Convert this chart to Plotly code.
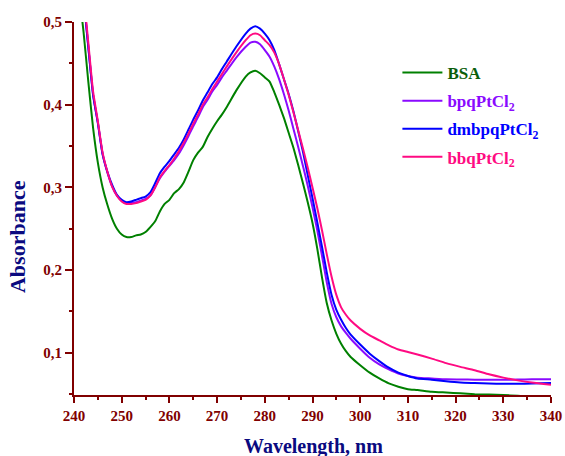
import plotly.graph_objects as go

wavelength = [241, 242, 243, 244, 245, 246, 247, 248, 249, 250, 251, 252, 253, 254, 255,
              256, 257, 258, 259, 260,
              261, 262, 263, 264, 265, 266, 267, 268, 269, 270, 271, 272,
              274, 276, 277, 278, 279,
              280, 281, 282, 283, 284, 285, 286, 287, 288, 289, 290, 291, 292, 293, 294, 295, 296,
              297, 298, 300, 302, 304, 306, 308, 310, 312, 315, 318, 321, 324, 327, 330, 333, 336, 340]

bsa = [0.54, 0.488, 0.428, 0.372, 0.330, 0.300, 0.279, 0.262, 0.250, 0.243, 0.240, 0.240, 0.242, 0.243, 0.246,
       0.252, 0.259, 0.271, 0.280, 0.285,
       0.293, 0.298, 0.306, 0.319, 0.333, 0.342, 0.349, 0.361, 0.371, 0.380, 0.388, 0.397,
       0.417, 0.434, 0.439, 0.441, 0.438,
       0.433, 0.428, 0.415, 0.400, 0.384, 0.366, 0.348, 0.327, 0.305, 0.282, 0.257, 0.226, 0.191, 0.160, 0.139, 0.123, 0.111,
       0.102, 0.095, 0.085, 0.076, 0.069, 0.063, 0.059, 0.056, 0.055, 0.053, 0.052, 0.051, 0.050, 0.0495, 0.049, 0.048, 0.047, 0.046]

bpq = [0.60, 0.53, 0.47, 0.412, 0.378, 0.340, 0.318, 0.301, 0.290, 0.284, 0.281, 0.281, 0.282, 0.284, 0.286,
       0.290, 0.300, 0.311, 0.319, 0.326,
       0.333, 0.341, 0.351, 0.362, 0.374, 0.385, 0.397, 0.406, 0.416, 0.424, 0.433, 0.441,
       0.457, 0.470, 0.475, 0.476, 0.473,
       0.466, 0.458, 0.446, 0.431, 0.413, 0.393, 0.371, 0.349, 0.326, 0.302, 0.276, 0.248, 0.217, 0.185, 0.159, 0.143, 0.132,
       0.124, 0.117, 0.105, 0.094, 0.086, 0.080, 0.075, 0.072, 0.070, 0.069, 0.068, 0.0678, 0.0675, 0.0674, 0.0674, 0.0676, 0.068, 0.068]

dmbpq = [0.60, 0.53, 0.47, 0.412, 0.378, 0.340, 0.319, 0.303, 0.291, 0.285, 0.282, 0.283, 0.285, 0.287, 0.289,
         0.294, 0.305, 0.317, 0.325, 0.332,
         0.340, 0.348, 0.358, 0.370, 0.382, 0.393, 0.405, 0.415, 0.425, 0.433, 0.443, 0.452,
         0.470, 0.486, 0.492, 0.495, 0.492,
         0.486, 0.478, 0.466, 0.449, 0.431, 0.413, 0.392, 0.368, 0.343, 0.315, 0.287, 0.258, 0.228, 0.197, 0.170, 0.152, 0.140,
         0.130, 0.122, 0.110, 0.099, 0.090, 0.082, 0.076, 0.072, 0.069, 0.0675, 0.0655, 0.064, 0.0635, 0.063, 0.0625, 0.0625, 0.063, 0.0635]

bbq = [0.60, 0.535, 0.475, 0.416, 0.380, 0.342, 0.319, 0.301, 0.290, 0.283, 0.280, 0.280, 0.281, 0.283, 0.285,
       0.290, 0.300, 0.312, 0.320, 0.327,
       0.335, 0.344, 0.354, 0.365, 0.377, 0.388, 0.400, 0.409, 0.419, 0.428, 0.437, 0.446,
       0.463, 0.478, 0.484, 0.486, 0.484,
       0.478, 0.472, 0.463, 0.449, 0.431, 0.412, 0.391, 0.369, 0.347, 0.324, 0.300, 0.275, 0.248, 0.219, 0.192, 0.170, 0.155,
       0.146, 0.139, 0.129, 0.121, 0.115, 0.109, 0.104, 0.101, 0.098, 0.093, 0.0875, 0.083, 0.079, 0.074, 0.070, 0.0667, 0.064, 0.0613]

series_names = ["BSA", "bpqPtCl<sub>2</sub>", "dmbpqPtCl<sub>2</sub>", "bbqPtCl<sub>2</sub>"]
series_values = [bsa, bpq, dmbpq, bbq]
line_colors = ["#008000", "#8A0AFF", "#0000FF", "#FF0A82"]
text_colors = ["#0B5E0B", "#8A0AFF", "#0000FF", "#FF0A82"]

x_ticks = list(range(240, 341, 10))
y_ticks = [0.1, 0.2, 0.3, 0.4, 0.5]
y_minor = [0.05, 0.15, 0.25, 0.35, 0.45]

FONT = "Liberation Serif, Times New Roman, serif"
AXC = "#800000"
TITLEC = "#0A0A80"

fig = go.Figure()
for i, (name, ys, col, tcol) in enumerate(zip(series_names, series_values, line_colors, text_colors)):
    fig.add_trace(go.Scatter(
        x=wavelength, y=ys, mode="lines",
        name=f"<span style='color:{tcol}'>{name}</span>",
        legendgroup=f"g{i}",
        line=dict(color=col, width=2, shape="spline", smoothing=0.5),
    ))

fig.update_layout(
    width=565, height=456,
    margin=dict(l=74, r=14, t=22, b=61, autoexpand=False),
    paper_bgcolor="white", plot_bgcolor="white",
    separators=",.",
    showlegend=True,
    legend=dict(x=0.678, y=0.9115, xanchor="left", yanchor="top",
                font=dict(family=FONT, size=17, weight="bold"),
                bgcolor="rgba(0,0,0,0)", tracegroupgap=3, itemwidth=40),
    xaxis=dict(
        range=[240, 340], tickvals=x_ticks, ticks="outside", ticklen=6, tickwidth=2,
        tickcolor=AXC, showline=True, linecolor=AXC, linewidth=2, showgrid=False, zeroline=False,
        automargin=False,
        tickfont=dict(family=FONT, size=15, color=AXC, weight="bold"),
        minor=dict(dtick=5, tick0=240, ticks="outside", ticklen=3, tickwidth=2, tickcolor=AXC),
    ),
    yaxis=dict(
        range=[0.049, 0.5], tickvals=y_ticks, tickformat=".1f", ticks="outside", ticklen=7, tickwidth=2,
        tickcolor=AXC, showline=True, linecolor=AXC, linewidth=2, showgrid=False, zeroline=False,
        automargin=False,
        tickfont=dict(family=FONT, size=15, color=AXC, weight="bold"),
        minor=dict(tickvals=y_minor, ticks="outside", ticklen=3, tickwidth=2, tickcolor=AXC),
    ),
    annotations=[
        dict(text="Absorbance", textangle=-90, xref="paper", yref="paper",
             x=-0.117, y=0.424, xanchor="center", yanchor="middle", showarrow=False,
             font=dict(family=FONT, size=22, color=TITLEC, weight="bold")),
        dict(text="Wavelength, nm", xref="paper", yref="paper",
             x=0.502, y=-0.139, xanchor="center", yanchor="middle", showarrow=False,
             font=dict(family=FONT, size=20, color=TITLEC, weight="bold")),
    ],
)

fig.write_html("out.html", config={"displayModeBar": False},
               post_script="document.body.style.margin='0';document.body.style.overflow='hidden';")
